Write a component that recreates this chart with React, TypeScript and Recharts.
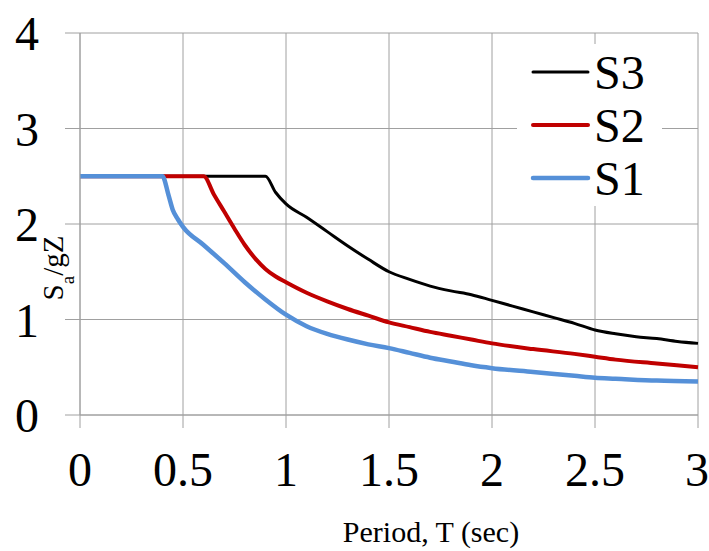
import React from 'react';
import { LineChart, Line, XAxis, YAxis, CartesianGrid, Legend } from 'recharts';

const T_S3 = [0, 0.9, 0.95, 1.0, 1.1, 1.2, 1.3, 1.4, 1.5, 1.6, 1.7, 1.8, 1.9, 2.0, 2.1, 2.2, 2.3, 2.4, 2.5, 2.6, 2.7, 2.8, 2.9, 3.0];
const SA_S3 = [2.5, 2.5, 2.33, 2.21, 2.07, 1.92, 1.77, 1.63, 1.5, 1.42, 1.35, 1.3, 1.26, 1.2, 1.14, 1.08, 1.02, 0.96, 0.89, 0.85, 0.82, 0.8, 0.77, 0.75];

const T_S2 = [0, 0.6, 0.65, 0.7, 0.75, 0.8, 0.85, 0.9, 0.95, 1.0, 1.1, 1.2, 1.3, 1.4, 1.5, 1.6, 1.7, 1.8, 1.9, 2.0, 2.2, 2.4, 2.5, 2.6, 2.8, 3.0];
const SA_S2 = [2.5, 2.5, 2.31, 2.13, 1.95, 1.78, 1.64, 1.53, 1.45, 1.39, 1.28, 1.19, 1.11, 1.04, 0.97, 0.92, 0.87, 0.83, 0.79, 0.75, 0.69, 0.64, 0.61, 0.58, 0.54, 0.5];

const T_S1 = [0, 0.4, 0.43, 0.45, 0.475, 0.5, 0.6, 0.7, 0.8, 0.9, 1.0, 1.1, 1.2, 1.3, 1.4, 1.5, 1.6, 1.7, 1.8, 1.9, 2.0, 2.2, 2.4, 2.5, 2.6, 2.8, 3.0];
const SA_S1 = [2.5, 2.5, 2.3, 2.15, 2.05, 1.97, 1.78, 1.59, 1.39, 1.21, 1.05, 0.93, 0.85, 0.79, 0.74, 0.7, 0.65, 0.6, 0.56, 0.52, 0.49, 0.45, 0.41, 0.39, 0.38, 0.36, 0.35];

const X_TICKS = [0, 0.5, 1, 1.5, 2, 2.5, 3];
const Y_TICKS = [0, 1, 2, 3, 4];

const SERIES = [
  { name: 'S3', t: T_S3, sa: SA_S3, color: '#000000', width: 3 },
  { name: 'S2', t: T_S2, sa: SA_S2, color: '#C00000', width: 4 },
  { name: 'S1', t: T_S1, sa: SA_S1, color: '#5590D8', width: 4.5 },
];

const FONT = '"Liberation Serif", "Times New Roman", serif';
const GRID = '#A0A0A0';

const LegendBox = () => (
  <svg width={145} height={162} style={{ background: '#fff', display: 'block' }}>
    {SERIES.map((s, i) => {
      const cy = 28 + i * 53;
      return (
        <g key={s.name}>
          <line x1={16} x2={71} y1={cy} y2={cy} stroke={s.color} strokeWidth={s.width} strokeLinecap="round" />
          <text x={77} y={cy + 17} fontSize={48} fontFamily={FONT} fill="#000">{s.name}</text>
        </g>
      );
    })}
  </svg>
);

const YTitle = () => {
  const cx = 55, cy = 268;
  return (
    <text x={cx} y={cy + 8} transform={`rotate(-90, ${cx}, ${cy})`} textAnchor="middle" fontSize={29} fontFamily={FONT} fill="#000">
      S<tspan baselineShift="sub" fontSize={19}>a</tspan><tspan>/gZ</tspan>
    </text>
  );
};

const XTitle = (props: any) => {
  const { viewBox } = props;
  return (
    <text x={viewBox.x + viewBox.width / 2 + 42} y={542} textAnchor="middle" fontSize={30} fontFamily={FONT} fill="#000">
      Period, T (sec)
    </text>
  );
};

export default function App() {
  return (
    <div style={{ width: 709, height: 551, background: '#fff' }}>
      <style>{`body{margin:0}`}</style>
      <LineChart width={709} height={551} margin={{ top: 33, right: 11, bottom: 0, left: 0 }}>
        <CartesianGrid stroke={GRID} strokeWidth={1} horizontal vertical />
        <XAxis
          type="number"
          dataKey="t"
          domain={[0, 3]}
          ticks={X_TICKS}
          height={136}
          stroke={GRID}
          tickSize={13}
          tickMargin={24}
          tick={{ fontSize: 48, fontFamily: FONT, fill: '#000' }}
          allowDuplicatedCategory={false}
          label={<XTitle />}
        />
        <YAxis
          type="number"
          domain={[0, 4]}
          ticks={Y_TICKS}
          width={80}
          stroke={GRID}
          tickSize={15}
          tickMargin={26}
          tick={{ fontSize: 48, fontFamily: FONT, fill: '#000' }}
          label={<YTitle />}
        />
        {SERIES.map(s => (
          <Line
            key={s.name}
            name={s.name}
            data={s.t.map((t, i) => ({ t, sa: s.sa[i] }))}
            dataKey="sa"
            type="monotone"
            stroke={s.color}
            strokeWidth={s.width}
            dot={false}
            activeDot={false}
            isAnimationActive={false}
          />
        ))}
        <Legend
          layout="vertical"
          align="center"
          verticalAlign="middle"
          content={<LegendBox />}
          wrapperStyle={{ left: 517, top: 44, width: 145, height: 162 }}
        />
      </LineChart>
    </div>
  );
}
